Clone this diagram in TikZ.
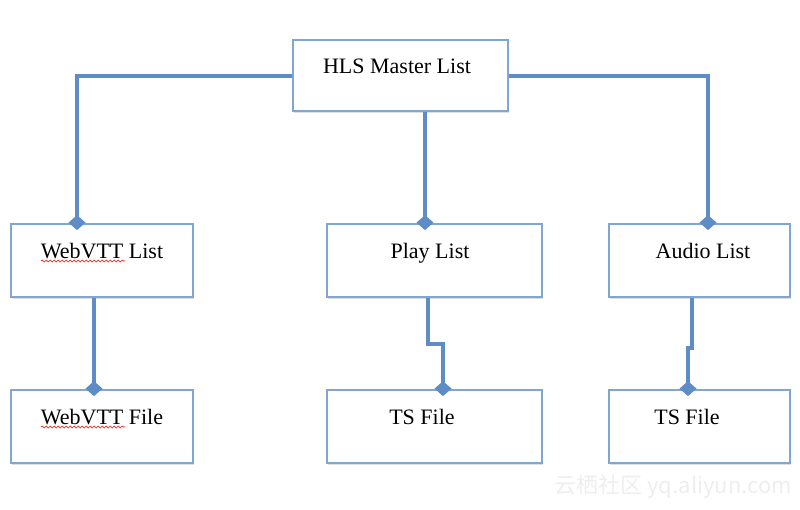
\documentclass[tikz,border=0pt]{standalone}
\usepackage{fontspec}
\setmainfont{Liberation Serif}
\newfontfamily\cjkfont{Noto Sans CJK SC}
\usetikzlibrary{arrows.meta,shadows,decorations.pathmorphing}
\definecolor{linkblue}{RGB}{93,140,198}
\definecolor{boxblue}{RGB}{128,166,210}
\definecolor{marklight}{RGB}{238,238,238}
\begin{document}
\begin{tikzpicture}[x=1pt,y=-1pt,
    box/.style={draw=boxblue, line width=1.8pt, fill=white, minimum height=73pt,
        text height=15pt, text depth=19pt, inner sep=0pt,
        font=\fontsize{22}{26}\selectfont,
        drop shadow={shadow xshift=1pt,shadow yshift=-1.5pt,opacity=0.25}},
    link/.style={draw=linkblue, line width=4pt},
    tip/.style={link, -{Diamond[length=15pt,width=17pt]}, shorten >=-7pt}]
    \useasboundingbox (0,0) rectangle (800,509);

    % Boxes
    \node[box, minimum width=215pt, minimum height=71pt] (master) at (400.5,75.5) {HLS Master List\kern7pt};
    \node[box, minimum width=182pt] (webvttlist) at (102,260.5) {WebVTT List};
    \node[box, minimum width=215pt] (playlist) at (434.5,260.5) {Play List\kern9pt};
    \node[box, minimum width=181pt] (audiolist) at (699.5,260.5) {\kern7pt Audio List};
    \node[box, minimum width=182pt] (webvttfile) at (102,426.5) {WebVTT File};
    \node[box, minimum width=215pt] (tsfile) at (434.5,426.5) {TS File\kern25pt};
    \node[box, minimum width=181pt] (audiofile) at (699.5,426.5) {TS File\kern25pt};

    % Connectors
    \draw[tip] (master.west) -| ([xshift=-25pt]webvttlist.north);
    \draw[tip] (master.east) -| ([xshift=8.5pt]audiolist.north);
    \draw[tip] ([xshift=-9.5pt]playlist.north |- master.south) -- ([xshift=-9.5pt]playlist.north);
    \draw[tip] ([xshift=-8pt]webvttlist.south) -- ([xshift=-8pt]webvttfile.north);
    \draw[tip] ([xshift=-6.5pt]playlist.south) -- ++(0,46) -| ([xshift=8.5pt]tsfile.north);
    \draw[tip] ([xshift=-7.5pt]audiolist.south) -- ++(0,50) -| ([xshift=-11.5pt]audiofile.north);

    % Spelling marks
    \draw[red, line width=0.6pt, decorate, decoration={snake, amplitude=1pt, segment length=4pt}] (41,261) -- (125,261);
    \draw[red, line width=0.6pt, decorate, decoration={snake, amplitude=1pt, segment length=4pt}] (41,427) -- (125,427);

    % Watermark
    \node[font=\cjkfont\fontsize{22}{26}\selectfont, text=marklight, anchor=east, inner sep=0pt] (mark) at (792,487) {云栖社区 yq.aliyun.com};
\end{tikzpicture}
\end{document}
